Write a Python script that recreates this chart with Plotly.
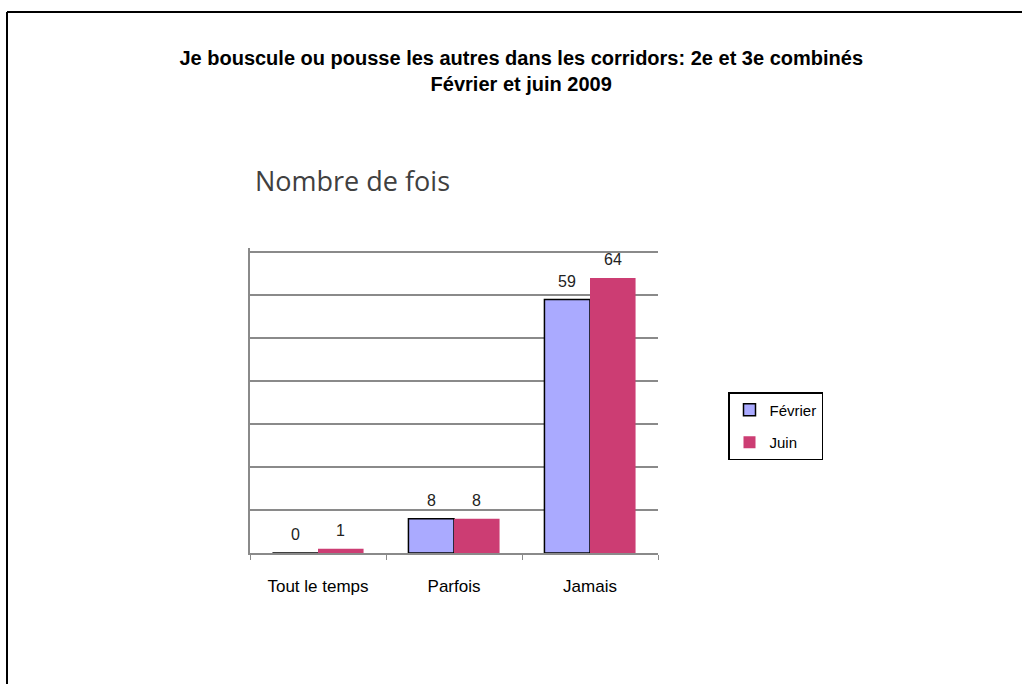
import plotly.graph_objects as go

categories = ["Tout le temps", "Parfois", "Jamais"]
fevrier = [0, 8, 59]
juin = [1, 8, 64]
series_names = ["Février", "Juin"]
series_colors = ["#AAAAFF", "#CC3D73"]

W, H = 1022, 684
L, R, T, B = 250, 364, 248, 131
pw, ph = W - L - R, H - T - B
BARGAP = 0.33
Y_MAX = 71


def px_x(p):
    return (p - L) / pw


def px_y(p):
    return (H - B - p) / ph


fig = go.Figure()
fig.add_trace(go.Bar(
    x=categories, y=fevrier, name=series_names[0], legendgroup="a",
    marker=dict(color=series_colors[0], line=dict(color="black", width=1.5)),
))
fig.add_trace(go.Bar(
    x=categories, y=juin, name=series_names[1], legendgroup="b",
    marker=dict(color=series_colors[1], line=dict(width=0)),
))

# value labels above each bar
bar_px = pw / len(categories) * (1 - BARGAP) / 2
labels = []
for series, shift in ((fevrier, -bar_px / 2), (juin, bar_px / 2)):
    for cat, v in zip(categories, series):
        labels.append(dict(
            x=cat, y=v, xref="x", yref="y", text=str(v), showarrow=False,
            xshift=shift, yshift=8, yanchor="bottom",
            font=dict(family="Arial", size=16, color="#222222"),
        ))

labels.append(dict(
    text="Nombre de fois", xref="paper", yref="paper",
    x=px_x(253), y=px_y(180), xanchor="left", yanchor="middle",
    showarrow=False, font=dict(family="Open Sans", size=27, color="#404040"),
))

fig.update_layout(
    width=W, height=H,
    margin=dict(l=L, r=R, t=T, b=B),
    paper_bgcolor="white", plot_bgcolor="white",
    barmode="group", bargap=BARGAP, bargroupgap=0,
    title=dict(
        text="Je bouscule ou pousse les autres dans les corridors: 2e et 3e combinés<br>Février et juin 2009",
        x=0.51, xanchor="center", y=1 - 65 / H, yanchor="middle",
        font=dict(family="Arial", size=20, color="black", weight="bold"),
    ),
    legend=dict(
        x=px_x(728), y=px_y(392), xanchor="left", yanchor="top",
        bordercolor="black", borderwidth=1.5, bgcolor="white",
        font=dict(family="Arial", size=15, color="black"),
        traceorder="grouped", tracegroupgap=10, itemwidth=30,
    ),
    xaxis=dict(
        showline=True, linecolor="#8a8a8a", linewidth=1.5,
        ticks="outside", tickson="boundaries", ticklen=5, tickcolor="#8a8a8a",
        tickfont=dict(family="Arial", size=17, color="black"),
        ticklabelstandoff=17, showgrid=False,
    ),
    yaxis=dict(
        range=[0, Y_MAX], dtick=10, showticklabels=False,
        showgrid=True, gridcolor="#8a8a8a", gridwidth=1.5,
        showline=True, linecolor="#8a8a8a", linewidth=1.5,
        zeroline=False,
    ),
    annotations=labels,
    shapes=[
        dict(type="line", xref="paper", yref="paper",
             x0=px_x(7), x1=px_x(1030), y0=px_y(12), y1=px_y(12),
             line=dict(color="black", width=2)),
        dict(type="line", xref="paper", yref="paper",
             x0=px_x(7), x1=px_x(7), y0=px_y(12), y1=px_y(700),
             line=dict(color="black", width=2)),
    ],
)

fig.write_html("out.html", config={"displayModeBar": False},
               post_script="document.body.style.margin='0';")
